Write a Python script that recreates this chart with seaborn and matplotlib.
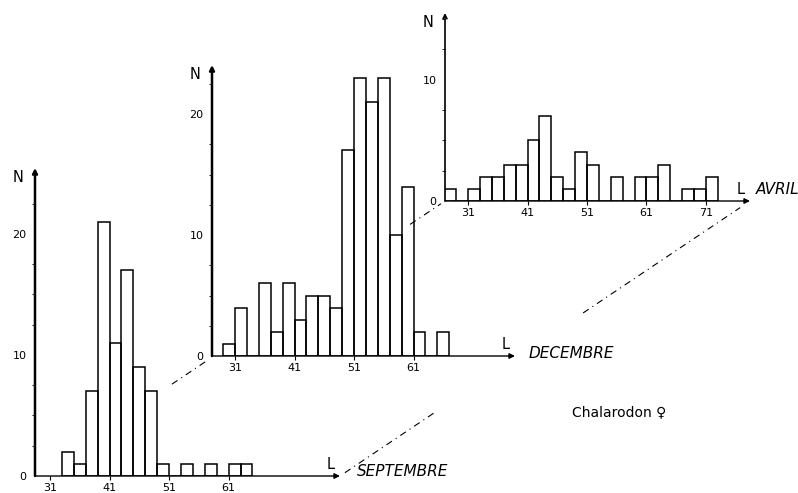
import matplotlib
matplotlib.use("Agg")
import matplotlib.pyplot as plt
from matplotlib.lines import Line2D
import seaborn as sns
import numpy as np

sns.set_style("white")
plt.rcParams['font.family'] = ['DejaVu Sans']
plt.rcParams['text.color'] = 'black'
plt.rcParams['xtick.color'] = 'black'
plt.rcParams['ytick.color'] = 'black'
plt.rcParams['axes.labelcolor'] = 'black'

# ---- data: bin left edges (length L, 2-unit bins) and counts N ----
sep_left = [33, 35, 37, 39, 41, 43, 45, 47, 49, 51, 53, 55, 57, 59, 61, 63]
sep_counts = [2, 1, 7, 21, 11, 17, 9, 7, 1, 0, 1, 0, 1, 0, 1, 1]

dec_left = [29, 31, 33, 35, 37, 39, 41, 43, 45, 47, 49, 51, 53, 55, 57, 59, 61, 63, 65]
dec_counts = [1, 4, 0, 6, 2, 6, 3, 5, 5, 4, 17, 23, 21, 23, 10, 14, 2, 0, 2]

avr_left = [27, 29, 31, 33, 35, 37, 39, 41, 43, 45, 47, 49, 51, 53, 55, 57, 59, 61, 63, 65, 67, 69, 71]
avr_counts = [1, 0, 1, 2, 2, 3, 3, 5, 7, 2, 1, 4, 3, 0, 2, 0, 2, 2, 3, 0, 1, 1, 2]

bin_width = 2
x_ticks_sep = [31, 41, 51, 61]
x_ticks_dec = [31, 41, 51, 61]
x_ticks_avr = [31, 41, 51, 61, 71]
y_ticks_big = [0, 10, 20]
y_ticks_avr = [0, 10]
month_sep = "SEPTEMBRE"
month_dec = "DECEMBRE"
month_avr = "AVRIL"
species = "Chalarodon \u2640"

W, H = 798, 493
fig = plt.figure(figsize=(W / 100, H / 100), dpi=100)


def px_axes(x0, xend, y0, ytop):
    return fig.add_axes([x0 / W, 1 - y0 / H, (xend - x0) / W, (y0 - ytop) / H])


panels = [
    dict(box=(35, 340, 476, 168), xlim=(28.48, 79.7), ylim=(0, 25.45),
         left=sep_left, counts=sep_counts, xt=x_ticks_sep, yt=y_ticks_big,
         name=month_sep, name_off=(12, 3), ylw=1.8),
    dict(box=(212, 515, 356, 65), xlim=(27.13, 78.05), ylim=(0, 24.05),
         left=dec_left, counts=dec_counts, xt=x_ticks_dec, yt=y_ticks_big,
         name=month_dec, name_off=(10, 2), ylw=1.8),
    dict(box=(445, 750, 201, 13), xlim=(27.13, 78.4), ylim=(0, 15.5),
         left=avr_left, counts=avr_counts, xt=x_ticks_avr, yt=y_ticks_avr,
         name=month_avr, name_off=(4, 8), ylw=1.2),
]

axes = []
for p in panels:
    ax = px_axes(*p["box"])
    ax.patch.set_alpha(0)
    left = np.array(p["left"], dtype=float)
    centers = left + bin_width / 2
    edges = list(left) + [left[-1] + bin_width]
    sns.histplot(x=centers, weights=p["counts"], bins=edges, ax=ax,
                 fill=False, color="black", linewidth=1.1, element="bars")
    ax.set_xlim(*p["xlim"])
    ax.set_ylim(*p["ylim"])
    for s in ax.spines.values():
        s.set_visible(False)
    ax.set_xlabel("")
    ax.set_ylabel("")
    ax.set_xticks(p["xt"])
    ax.set_xticklabels([str(t) for t in p["xt"]])
    ax.set_yticks(p["yt"])
    ax.set_yticklabels([str(t) for t in p["yt"]])
    ax.set_yticks(np.arange(0, p["ylim"][1], 2.5), minor=True)
    ax.tick_params(axis="x", which="major", direction="out", length=3,
                   width=0.8, pad=2, labelsize=8, color="black")
    ax.tick_params(axis="y", which="major", length=0, pad=6, labelsize=8)
    ax.tick_params(axis="y", which="minor", direction="out", length=2,
                   width=0.6, color="black", left=True)
    ax.tick_params(axis="x", which="minor", length=0)
    ax.tick_params(left=True, bottom=True)
    ax.grid(False)
    # axes with arrows
    ax.annotate("", xy=(1, 0), xytext=(0, 0), xycoords="axes fraction",
                arrowprops=dict(arrowstyle="-|>", lw=1.0, color="black",
                                mutation_scale=8, shrinkA=0, shrinkB=0),
                annotation_clip=False)
    ax.annotate("", xy=(0, 1), xytext=(0, 0), xycoords="axes fraction",
                arrowprops=dict(arrowstyle="->", lw=p["ylw"], color="black",
                                mutation_scale=7, shrinkA=0, shrinkB=0),
                annotation_clip=False)
    # axis letters
    ax.annotate("N", xy=(0, 1), xycoords="axes fraction", xytext=(-12, -7),
                textcoords="offset points", ha="center", va="center",
                fontsize=10.5, annotation_clip=False)
    ax.annotate("L", xy=(1, 0), xycoords="axes fraction", xytext=(-6.5, 8),
                textcoords="offset points", ha="center", va="center",
                fontsize=10.5, annotation_clip=False)
    ax.annotate(p["name"], xy=(1, 0), xycoords="axes fraction",
                xytext=p["name_off"], textcoords="offset points",
                ha="left", va="center", fontsize=11, style="italic",
                annotation_clip=False)
    axes.append(ax)


# perspective connector lines (dash-dot), between axis origins / arrow ends
def fig_pt(ax, fx, fy):
    b = ax.get_position()
    return np.array([b.x0 + fx * b.width, b.y0 + fy * b.height])


a_sep, a_dec, a_avr = axes
lines = [
    (fig_pt(a_sep, 0, 0), fig_pt(a_avr, 0, 0), [(0.334, 0.415), (0.915, 0.99)]),
    (fig_pt(a_sep, 1, 0), fig_pt(a_avr, 1, 0), [(0.012, 0.232), (0.593, 0.976)]),
]
for p0, p1, segs in lines:
    for t0, t1 in segs:
        q0 = p0 + t0 * (p1 - p0)
        q1 = p0 + t1 * (p1 - p0)
        fig.add_artist(Line2D([q0[0], q1[0]], [q0[1], q1[1]],
                              transform=fig.transFigure, color="black",
                              lw=0.8, linestyle=(0, (6, 4, 1, 4))))

fig.text(572 / W, 1 - 412 / H, species, ha="left", va="center", fontsize=10)

fig.savefig("out.png", dpi=100, facecolor="white")
